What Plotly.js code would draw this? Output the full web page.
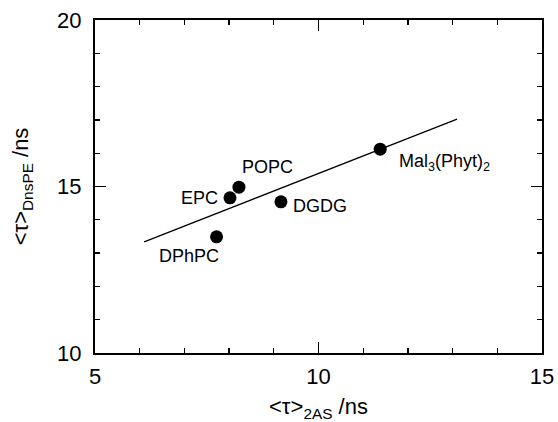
<!DOCTYPE html>
<html>
<head>
<meta charset="utf-8">
<script src="https://cdn.plot.ly/plotly-3.0.1.min.js"></script>
<style>html,body{margin:0;padding:0;background:#fff;}#chart{width:558px;height:422px;}</style>
</head>
<body>
<div id="chart"></div>
<script>
// Data
const lipids = ["DPhPC", "EPC", "POPC", "DGDG", "Mal<sub>3</sub>(Phyt)<sub>2</sub>"];
const tau2AS = [7.72, 8.02, 8.22, 9.16, 11.38];
const tauDnsPE = [13.49, 14.66, 14.98, 14.54, 16.12];
// Fitted line end points
const fitX = [6.1, 13.1];
const fitY = [13.34, 17.02];
// Tick labels
const xTicks = [5, 10, 15];
const yTicks = [10, 15, 20];

// Label placement (pixels, relative to point)
const labelShiftX = [-28, -30, 29, 39, 17];
const labelShiftY = [-19, 0, 20, -4, -13];
const labelAnchor = ["center", "center", "center", "center", "left"];

const font = "Liberation Sans, Arial, Helvetica, sans-serif";

const traces = [
  {
    x: fitX, y: fitY, mode: "lines", type: "scatter",
    line: {color: "#000", width: 1.3}, hoverinfo: "skip", showlegend: false
  },
  {
    x: tau2AS, y: tauDnsPE, mode: "markers", type: "scatter",
    marker: {color: "#000", size: 13}, showlegend: false
  }
];

const annotations = lipids.map((t, i) => ({
  x: tau2AS[i], y: tauDnsPE[i], xref: "x", yref: "y",
  text: t, showarrow: false,
  xshift: labelShiftX[i], yshift: labelShiftY[i],
  xanchor: labelAnchor[i], yanchor: "middle",
  font: {family: font, size: 18, color: "#000"}
}));

const axisCommon = {
  showgrid: false, zeroline: false,
  showline: true, linecolor: "#000", linewidth: 2, mirror: "allticks",
  ticks: "inside", ticklen: 11, tickwidth: 1.5, tickcolor: "#000",
  tickfont: {family: font, size: 22, color: "#000"},
  minor: {ticks: "inside", ticklen: 5, tickwidth: 1.3, tickcolor: "#000", dtick: 1, showgrid: false}
};

const layout = {
  width: 558, height: 422,
  margin: {l: 95, r: 16, t: 20, b: 69},
  paper_bgcolor: "#fff", plot_bgcolor: "#fff",
  font: {family: font, color: "#000"},
  xaxis: Object.assign({}, axisCommon, {
    range: [5, 15], tickvals: xTicks, ticktext: xTicks.map(String),
    ticklabelstandoff: 3,
    title: {text: "&lt;τ&gt;<sub>2AS</sub> /ns", font: {family: font, size: 22, color: "#000"}, standoff: 13}
  }),
  yaxis: Object.assign({}, axisCommon, {
    range: [10, 20], tickvals: yTicks, ticktext: yTicks.map(String),
    ticklabelstandoff: 7,
    title: {text: "&lt;τ&gt;<sub>DnsPE</sub> /ns", font: {family: font, size: 22, color: "#000"}, standoff: 22}
  }),
  annotations: annotations
};

Plotly.newPlot("chart", traces, layout, {displayModeBar: false, staticPlot: true});
</script>
</body>
</html>
